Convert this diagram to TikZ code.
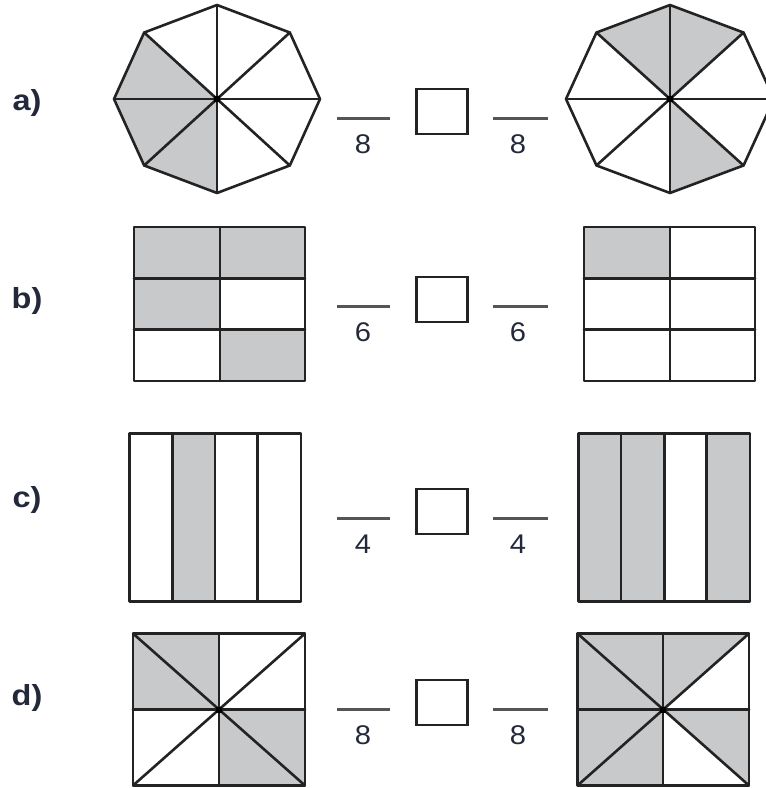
\documentclass[tikz,border=0pt]{standalone}
\usepackage{fontspec}
\setmainfont{Liberation Sans}
\definecolor{ink}{RGB}{35,35,35}
\definecolor{shadegray}{RGB}{200,201,203}
\definecolor{fracgray}{RGB}{85,85,85}
\definecolor{digitcol}{RGB}{35,40,58}
\begin{document}
\begin{tikzpicture}[x=1pt,y=-1pt,
  edge/.style={draw=ink,line width=2.6pt,line join=round,line cap=round},
  shadefill/.style={fill=shadegray},
  fracline/.style={draw=fracgray,line width=3pt},
  ansbox/.style={draw=ink,line width=2.8pt,minimum width=51pt,minimum height=45pt,inner sep=0pt},
  digit/.style={font=\fontsize{27}{27}\selectfont,text=digitcol,inner sep=0pt,xscale=1.08},
  lbl/.style={font=\fontsize{29}{29}\selectfont\bfseries,text=digitcol,inner sep=0pt,xscale=1.12},
  cdot/.style={fill=black}]
\useasboundingbox (0,0) rectangle (766,788);
\clip (0,0) rectangle (766,788);

% ---------- labels ----------
\node[lbl] (la) at (27,103) {a)};
\node[lbl] (lb) at (27,301) {b)};
\node[lbl] (lc) at (27,500) {c)};
\node[lbl] (ld) at (27,698) {d)};

% ---------- fractions ----------
\foreach \r/\ly/\d in {a/118/8, b/306/6, c/518/4, d/709/8}{
  \coordinate (f\r1a) at (337,\ly);
  \coordinate (f\r1b) at (390,\ly);
  \coordinate (f\r2a) at (493,\ly);
  \coordinate (f\r2b) at (548,\ly);
  \draw[fracline] (f\r1a) -- (f\r1b);
  \draw[fracline] (f\r2a) -- (f\r2b);
  \node[ansbox] (box\r) at (442,\ly-6.5) {};
  \node[digit] (d\r1) at (363,\ly+26) {\d};
  \node[digit] (d\r2) at (518,\ly+26) {\d};
}

% ---------- a) octagons ----------
\begin{scope}[shift={(217,99)},x=103pt,y=94pt]
  \foreach \a in {135,180,225}{
    \fill[shadefill] (0,0) -- (\a:1) -- (\a+45:1) -- cycle;}
  \draw[edge] (0:1) \foreach \a in {45,90,...,315}{ -- (\a:1)} -- cycle;
  \foreach \a in {0,45,90,135}{\draw[edge] (\a:1) -- (\a+180:1);}
\end{scope}
\fill[cdot] (214,96) rectangle (220,102);

\begin{scope}[shift={(670,99)},x=104pt,y=94pt]
  \foreach \a in {45,90,270}{
    \fill[shadefill] (0,0) -- (\a:1) -- (\a+45:1) -- cycle;}
  \draw[edge] (0:1) \foreach \a in {45,90,...,315}{ -- (\a:1)} -- cycle;
  \foreach \a in {0,45,90,135}{\draw[edge] (\a:1) -- (\a+180:1);}
\end{scope}
\fill[cdot] (667,96) rectangle (673,102);

% ---------- b) grids ----------
\fill[shadefill] (134,227) rectangle (305,278.3);
\fill[shadefill] (134,278.3) rectangle (220,329.7);
\fill[shadefill] (220,329.7) rectangle (305,381);
\draw[edge] (134,227) rectangle (305,381);
\draw[edge] (220,227) -- (220,381);
\draw[edge] (134,278.3) -- (305,278.3);
\draw[edge] (134,329.7) -- (305,329.7);

\fill[shadefill] (584,227) rectangle (670,278.3);
\draw[edge] (584,227) rectangle (755,381);
\draw[edge] (670,227) -- (670,381);
\draw[edge] (584,278.3) -- (755,278.3);
\draw[edge] (584,329.7) -- (755,329.7);

% ---------- c) strips ----------
\fill[shadefill] (172.3,433.5) rectangle (215,601.5);
\draw[edge] (129.3,433.5) rectangle (301,601.5);
\foreach \x in {172.3,215,257.7}{\draw[edge] (\x,433.5) -- (\x,601.5);}

\fill[shadefill] (578.3,433.5) rectangle (664.3,601.5);
\fill[shadefill] (706.7,433.5) rectangle (750,601.5);
\draw[edge] (578.3,433.5) rectangle (750,601.5);
\foreach \x in {621,664.3,706.7}{\draw[edge] (\x,433.5) -- (\x,601.5);}

% ---------- d) squares ----------
\fill[shadefill] (133,633.5) rectangle (219,709.5);
\fill[shadefill] (219,709.5) rectangle (305,785.5);
\draw[edge] (133,633.5) rectangle (305,785.5);
\draw[edge] (219,633.5) -- (219,785.5);
\draw[edge] (133,709.5) -- (305,709.5);
\draw[edge] (133,633.5) -- (305,785.5);
\draw[edge] (305,633.5) -- (133,785.5);
\fill[cdot] (216,706.5) rectangle (222,712.5);

\fill[shadefill] (577.5,633.5) rectangle (663,785.5);
\fill[shadefill] (663,633.5) -- (749,633.5) -- (663,709.5) -- cycle;
\fill[shadefill] (663,709.5) -- (749,709.5) -- (749,785.5) -- cycle;
\draw[edge] (577.5,633.5) rectangle (749,785.5);
\draw[edge] (663,633.5) -- (663,785.5);
\draw[edge] (577.5,709.5) -- (749,709.5);
\draw[edge] (577.5,633.5) -- (749,785.5);
\draw[edge] (749,633.5) -- (577.5,785.5);
\fill[cdot] (660,706.5) rectangle (666,712.5);
\end{tikzpicture}
\end{document}
